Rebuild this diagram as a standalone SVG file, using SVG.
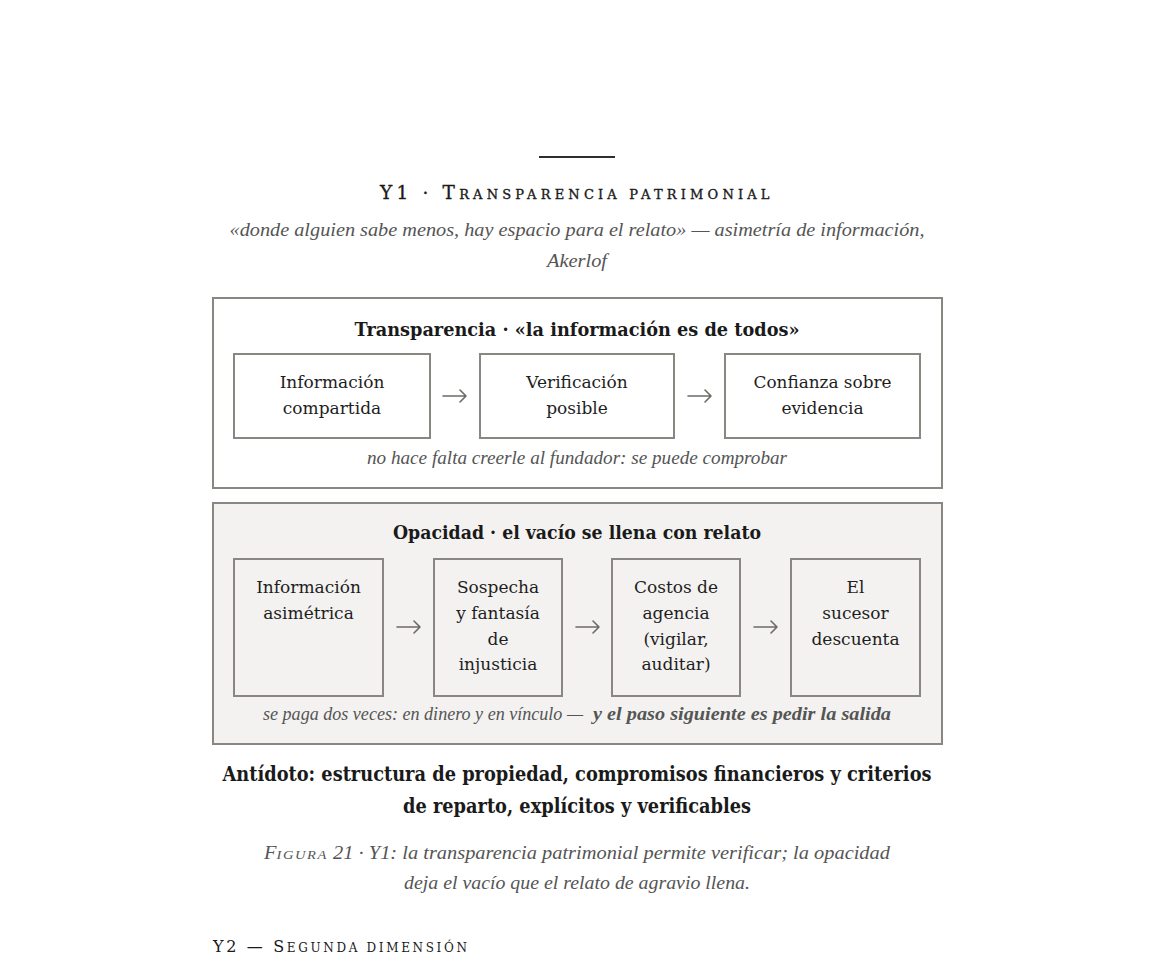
<svg xmlns="http://www.w3.org/2000/svg" width="1153" height="963" viewBox="0 0 1153 963">
<style>
.bg{fill:#ffffff}
.panel{fill:#ffffff;stroke:#8a8682;stroke-width:2}
.panel2{fill:#f3f2f0;stroke:#8a8682;stroke-width:2}
.node{fill:none;stroke:#8a8682;stroke-width:2}
.t{font-family:"DejaVu Serif","Liberation Serif",serif;fill:#1e1e1e;font-size:17px;text-anchor:middle}
.b{font-family:"DejaVu Serif","Liberation Serif",serif;fill:#1a1a1a;font-weight:bold;text-anchor:middle}
.i{font-family:"Liberation Serif","DejaVu Serif",serif;fill:#555555;font-style:italic;font-size:19px}
.sc{font-family:"DejaVu Serif","Liberation Serif",serif;fill:#1a1a1a}
.arr{fill:none;stroke:#6e6a66;stroke-width:1.6;stroke-linecap:round;stroke-linejoin:round}
</style>
<rect class="bg" x="0" y="0" width="1153" height="963"/>
<line x1="539" y1="157" x2="615" y2="157" stroke="#2e2e2e" stroke-width="2"/>
<text class="sc" x="576" y="199" text-anchor="middle" textLength="392" lengthAdjust="spacing" letter-spacing="2.5" stroke="#1a1a1a" stroke-width="0.35"><tspan font-size="18.5">Y1 · T</tspan><tspan font-size="13">RANSPARENCIA PATRIMONIAL</tspan></text>
<text class="i" x="577" y="236" text-anchor="middle" textLength="695" lengthAdjust="spacingAndGlyphs">«donde alguien sabe menos, hay espacio para el relato» — asimetría de información,</text>
<text class="i" x="577" y="267" text-anchor="middle" textLength="60" lengthAdjust="spacingAndGlyphs">Akerlof</text>

<g id="panel-transparencia">
<rect class="panel" x="213" y="298" width="729" height="190"/>
<text class="b" x="577" y="336" font-size="18" textLength="445" lengthAdjust="spacingAndGlyphs">Transparencia · «la información es de todos»</text>
<text class="i" x="577" y="464" text-anchor="middle" font-size="18" textLength="420" lengthAdjust="spacingAndGlyphs">no hace falta creerle al fundador: se puede comprobar</text>
</g>
<g id="node-info-compartida">
<rect class="node" x="234" y="354" width="196" height="84"/>
<text class="t" x="332" y="388">Información</text>
<text class="t" x="332" y="414">compartida</text>
</g>
<g id="node-verificacion">
<rect class="node" x="480" y="354" width="194" height="84"/>
<text class="t" x="577" y="388">Verificación</text>
<text class="t" x="577" y="414">posible</text>
</g>
<g id="node-confianza">
<rect class="node" x="725" y="354" width="195" height="84"/>
<text class="t" x="822.5" y="388" textLength="138" lengthAdjust="spacingAndGlyphs">Confianza sobre</text>
<text class="t" x="822.5" y="414">evidencia</text>
</g>

<g id="panel-opacidad">
<rect class="panel2" x="213" y="503" width="729" height="241"/>
<text class="b" x="577" y="539" font-size="18" textLength="368" lengthAdjust="spacingAndGlyphs">Opacidad · el vacío se llena con relato</text>
<text class="i" x="263" y="720" text-anchor="start" font-size="18" textLength="320" lengthAdjust="spacingAndGlyphs">se paga dos veces: en dinero y en vínculo —</text>
<text class="i" x="891" y="720" text-anchor="end" font-size="18" font-weight="bold" fill="#3a3a3a" textLength="298" lengthAdjust="spacingAndGlyphs">y el paso siguiente es pedir la salida</text>
</g>
<g id="node-info-asimetrica">
<rect class="node" x="234" y="559" width="149" height="137"/>
<text class="t" x="308.5" y="593">Información</text>
<text class="t" x="308.5" y="619">asimétrica</text>
</g>
<g id="node-sospecha">
<rect class="node" x="434" y="559" width="128" height="137"/>
<text class="t" x="498" y="593">Sospecha</text>
<text class="t" x="498" y="619">y fantasía</text>
<text class="t" x="498" y="645">de</text>
<text class="t" x="498" y="670">injusticia</text>
</g>
<g id="node-costos">
<rect class="node" x="612" y="559" width="128" height="137"/>
<text class="t" x="676" y="593">Costos de</text>
<text class="t" x="676" y="619">agencia</text>
<text class="t" x="676" y="645">(vigilar,</text>
<text class="t" x="676" y="670">auditar)</text>
</g>
<g id="node-sucesor">
<rect class="node" x="791" y="559" width="129" height="137"/>
<text class="t" x="855.5" y="593">El</text>
<text class="t" x="855.5" y="619">sucesor</text>
<text class="t" x="855.5" y="645">descuenta</text>
</g>

<g id="connectors">
<path class="arr" d="M443 396 H466 M460 390 L466 396 L460 402"/>
<path class="arr" d="M688 396 H711 M705 390 L711 396 L705 402"/>
<path class="arr" d="M397 627 H420 M414 621 L420 627 L414 633"/>
<path class="arr" d="M576 627 H599 M593 621 L599 627 L593 633"/>
<path class="arr" d="M754 627 H777 M771 621 L777 627 L771 633"/>
</g>

<text class="b" x="577" y="781" font-size="19.5" textLength="709" lengthAdjust="spacingAndGlyphs">Antídoto: estructura de propiedad, compromisos financieros y criterios</text>
<text class="b" x="577" y="813" font-size="19.5" textLength="348" lengthAdjust="spacingAndGlyphs">de reparto, explícitos y verificables</text>

<text class="i" x="577" y="859" text-anchor="middle" font-size="18.5" fill="#666" textLength="626" lengthAdjust="spacingAndGlyphs"><tspan font-size="19">F</tspan><tspan font-size="13.5" letter-spacing="1.5">IGURA</tspan> 21 · Y1: la transparencia patrimonial permite verificar; la opacidad</text>
<text class="i" x="577" y="889" text-anchor="middle" font-size="18.5" fill="#666" textLength="346" lengthAdjust="spacingAndGlyphs">deja el vacío que el relato de agravio llena.</text>

<text class="sc" x="213" y="952" fill="#6a6a6a" textLength="256" lengthAdjust="spacing" letter-spacing="2"><tspan font-size="16">Y2 — S</tspan><tspan font-size="12">EGUNDA DIMENSIÓN</tspan></text>
</svg>
